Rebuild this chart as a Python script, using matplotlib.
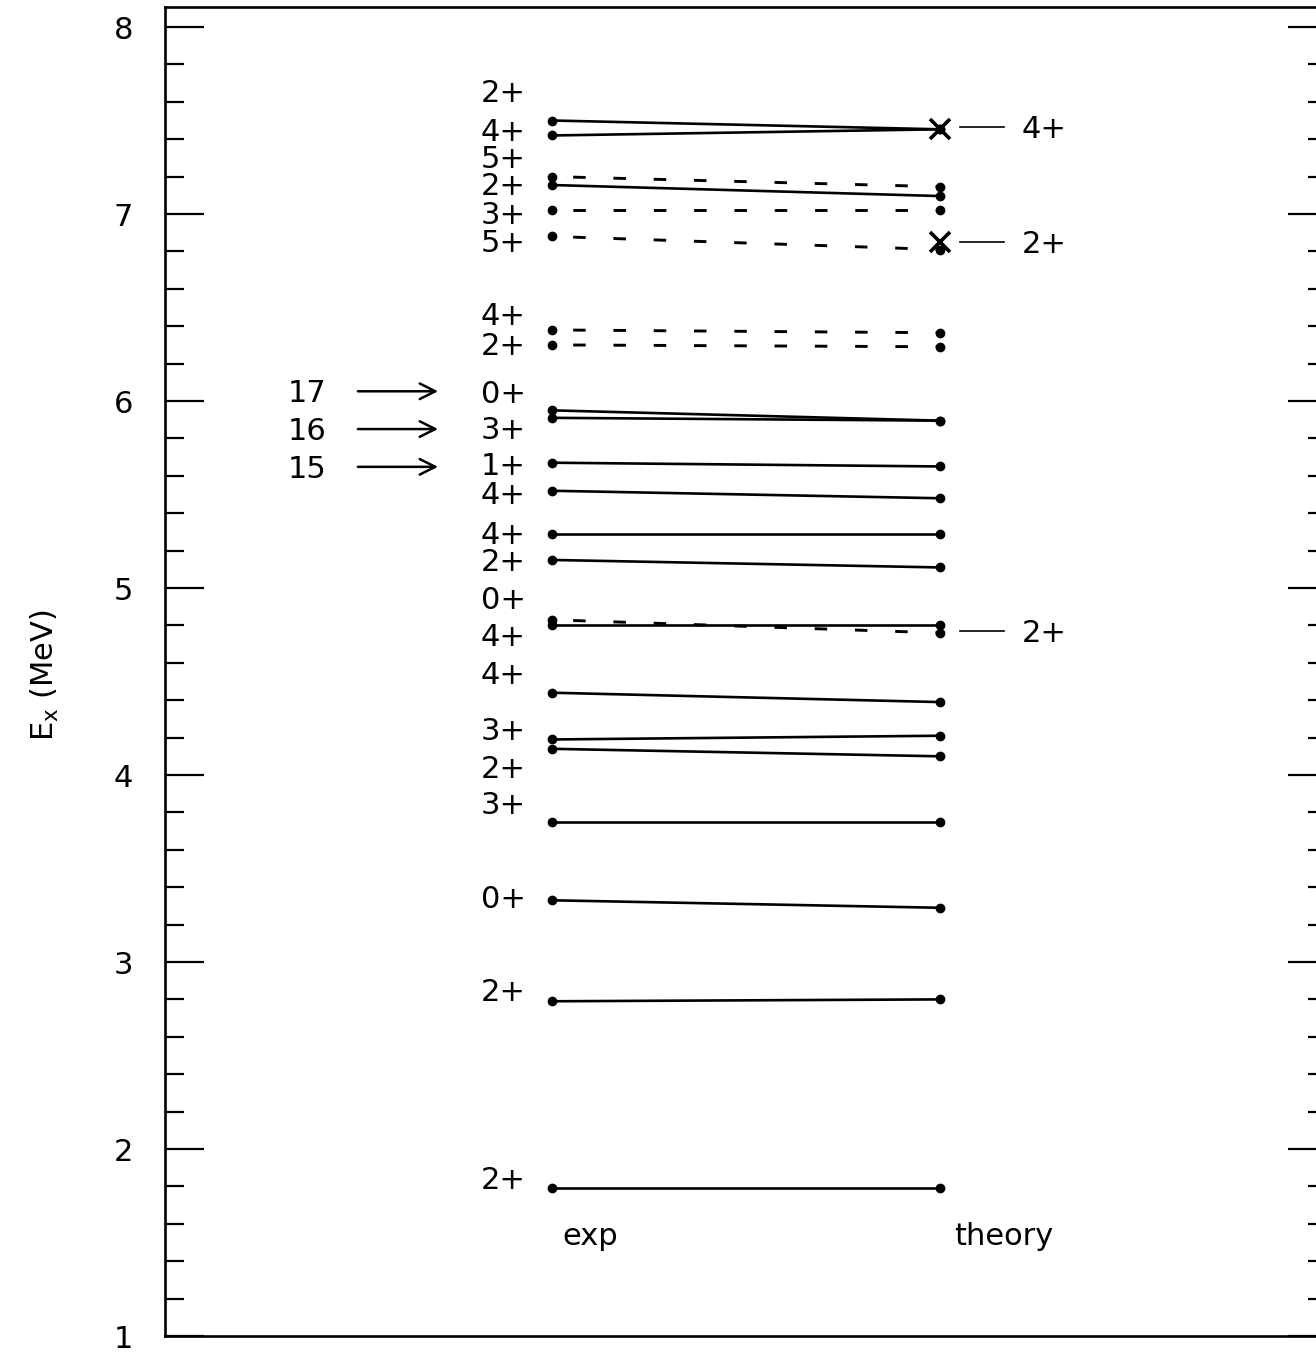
import numpy as np
import matplotlib
matplotlib.use("Agg")
import matplotlib.pyplot as plt
from matplotlib.ticker import MultipleLocator
from matplotlib.transforms import ScaledTranslation

plt.rcParams['font.family'] = ['DejaVu Sans']
plt.rcParams['mathtext.default'] = 'regular'
plt.rcParams['lines.scale_dashes'] = False

# levels joined by solid lines (exp -> theory), MeV
exp_solid = [1.79, 2.79, 3.33, 3.75, 4.14, 4.19, 4.44, 4.80, 5.15, 5.29,
             5.52, 5.67, 5.91, 5.95, 7.155, 7.42, 7.50]
th_solid = [1.79, 2.80, 3.29, 3.75, 4.10, 4.21, 4.39, 4.80, 5.11, 5.29,
            5.48, 5.65, 5.895, 5.895, 7.096, 7.453, 7.453]

# levels joined by dashed lines
exp_dash = [4.83, 6.30, 6.38, 6.88, 7.02, 7.20]
th_dash = [4.76, 6.29, 6.365, 6.81, 7.02, 7.146]

# spin labels on the exp side (label centres)
spin_labels = ['2+', '2+', '0+', '3+', '2+', '3+', '4+', '4+', '0+', '2+', '4+', '4+',
               '1+', '3+', '0+', '2+', '4+', '5+', '3+', '2+', '5+', '4+', '2+']
spin_y = [1.845, 2.85, 3.348, 3.85, 4.043, 4.246, 4.548, 4.749, 4.947, 5.15, 5.294, 5.508,
          5.663, 5.856, 6.05, 6.305, 6.465, 6.856, 7.005, 7.16, 7.306, 7.449, 7.658]

# extra theory states marked on the right
right_labels = ['4+', '2+', '2+']
right_y = [7.465, 6.852, 4.77]
cross_y = [7.453, 6.85]

# numbered arrows
arrow_labels = ['17', '16', '15']
arrow_y = [6.052, 5.85, 5.648]

x_exp, x_th = 1/3, 2/3

fig = plt.figure(figsize=(13.16, 13.53), dpi=100)
ax = fig.add_axes([165/1316, 17/1353, (1327-165)/1316, (1336-7)/1353])
ax.set_xlim(0, 1)
ax.set_ylim(1, 8.107)

for a, b in zip(exp_solid, th_solid):
    ax.plot([x_exp, x_th], [a, b], color='black', lw=1.9, marker='o', ms=6,
            solid_capstyle='butt')
for a, b in zip(exp_dash, th_dash):
    ax.plot([x_exp, x_th], [a, b], color='black', lw=2.1, marker='o', ms=6,
            ls=(14, (9, 20)))

ax.plot([x_th]*len(cross_y), cross_y, ls='none', marker='x', ms=15, mew=2.6, color='black')

# text centred on digits
down = ScaledTranslation(0, -11/100, fig.dpi_scale_trans)
fs = 22
for s, y in zip(spin_labels, spin_y):
    ax.text(0.291, y, s, ha='center', va='baseline', fontsize=fs, transform=ax.transData + down)

for s, y in zip(right_labels, right_y):
    ax.plot([0.684, 0.722], [y, y], color='black', lw=1.2)
    ax.text(0.737, y, s, ha='left', va='baseline', fontsize=fs, transform=ax.transData + down)

for s, y in zip(arrow_labels, arrow_y):
    ax.text(0.122, y, s, ha='center', va='baseline', fontsize=fs, transform=ax.transData + down)
    ax.annotate('', xy=(0.235, y), xytext=(0.166, y),
                arrowprops=dict(arrowstyle='->', lw=1.8, color='black',
                                mutation_scale=28, shrinkA=0, shrinkB=0))

ax.text(0.366, 1.487, 'exp', ha='center', va='baseline', fontsize=fs)
ax.text(0.722, 1.487, 'theory', ha='center', va='baseline', fontsize=fs)

ax.set_xticks([])
ax.yaxis.set_major_locator(MultipleLocator(1))
ax.yaxis.set_minor_locator(MultipleLocator(0.2))
ax.tick_params(axis='y', which='both', direction='in', left=True, right=True,
               labelright=False, labelsize=fs, pad=23)
ax.tick_params(axis='y', which='major', length=28, width=1.6)
ax.tick_params(axis='y', which='minor', length=14, width=1.6)
for sp in ax.spines.values():
    sp.set_linewidth(1.9)

fig.text(45/1316, 1 - 675/1353, 'E$_{x}$ (MeV)', rotation=90, ha='center', va='center',
         fontsize=fs)

fig.savefig('out.png', dpi=100)
